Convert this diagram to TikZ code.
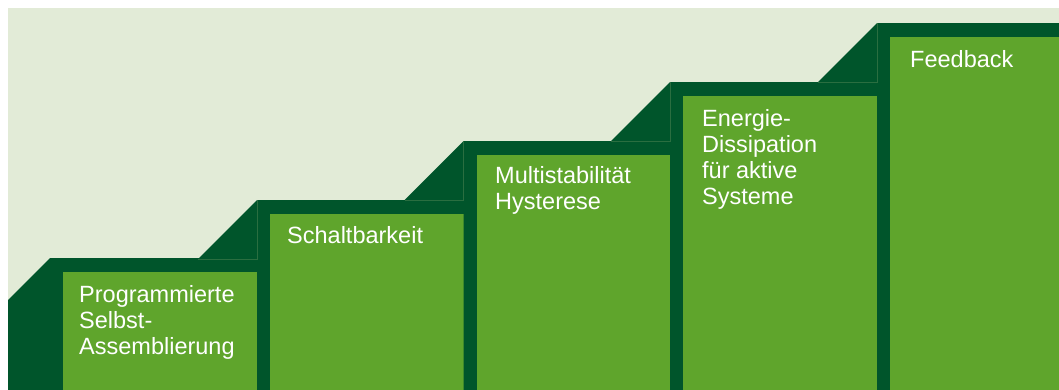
\documentclass[tikz,border=0pt]{standalone}
\usepackage{fontspec}
\setmainfont{Liberation Sans}
\usepackage{xcolor}
\definecolor{stepbg}{HTML}{E2EBD7}
\definecolor{stepdark}{HTML}{00552B}
\definecolor{stepgreen}{HTML}{5FA52C}
\definecolor{stepseam}{HTML}{2A6E40}

\begin{document}
\begin{tikzpicture}[x=1pt, y=-1pt,
    darkpart/.style={fill=stepdark},
    greenbox/.style={fill=stepgreen},
    seam/.style={draw=stepseam, line width=0.6pt},
    steplabel/.style={anchor=base west, inner sep=0pt, text=white, align=left,
        font=\fontsize{23.5}{26.3}\selectfont}]
    \useasboundingbox (0,0) rectangle (1059,389);
    \fill[stepbg] (8,8) rectangle (1059,389);
    \clip (8,8) rectangle (1059,389);

    % Step 1 - self-assembly (label placed by its last baseline)
    \begin{scope}[shift={(50,258)}]
        \fill[darkpart] (-59,59) -- (0,0) -- (207,0) -- (207,400) -- (-59,400) -- cycle;
        \fill[greenbox] (13,13.5) rectangle (207,400);
        \node[steplabel] (selbst) at (29,96.6) {Programmierte\\Selbst-\\Assemblierung};
    \end{scope}

    % Step 2 - switchability
    \begin{scope}[shift={(257,200)}]
        \fill[darkpart] (-59,59) -- (0,0) -- (207,0) -- (207,400) -- (0,400) -- (0,59) -- cycle;
        \draw[seam] (-59,59) -- (0,59) -- (0,0);
        \fill[greenbox] (13,13.5) rectangle (207,400);
        \node[steplabel] (schalt) at (30,43) {Schaltbarkeit};
    \end{scope}

    % Step 3 - multistability
    \begin{scope}[shift={(463.5,141)}]
        \fill[darkpart] (-59,59) -- (0,0) -- (207,0) -- (207,400) -- (0,400) -- (0,59) -- cycle;
        \draw[seam] (-59,59) -- (0,59) -- (0,0);
        \fill[greenbox] (13,13.5) rectangle (207,400);
        \node[steplabel] (multi) at (31.5,68.3) {Multistabilität\\Hysterese};
    \end{scope}

    % Step 4 - dissipation
    \begin{scope}[shift={(670,82)}]
        \fill[darkpart] (-59,59) -- (0,0) -- (207,0) -- (207,400) -- (0,400) -- (0,59) -- cycle;
        \draw[seam] (-59,59) -- (0,59) -- (0,0);
        \fill[greenbox] (13,13.5) rectangle (207,400);
        \node[steplabel] (energie) at (32,122.9) {Energie-\\Dissipation\\für aktive\\Systeme};
    \end{scope}

    % Step 5 - feedback
    \begin{scope}[shift={(877,23)}]
        \fill[darkpart] (-59,59) -- (0,0) -- (207,0) -- (207,400) -- (0,400) -- (0,59) -- cycle;
        \draw[seam] (-59,59) -- (0,59) -- (0,0);
        \fill[greenbox] (13,13.5) rectangle (207,400);
        \node[steplabel] (feedback) at (33,44) {Feedback};
    \end{scope}
\end{tikzpicture}
\end{document}
